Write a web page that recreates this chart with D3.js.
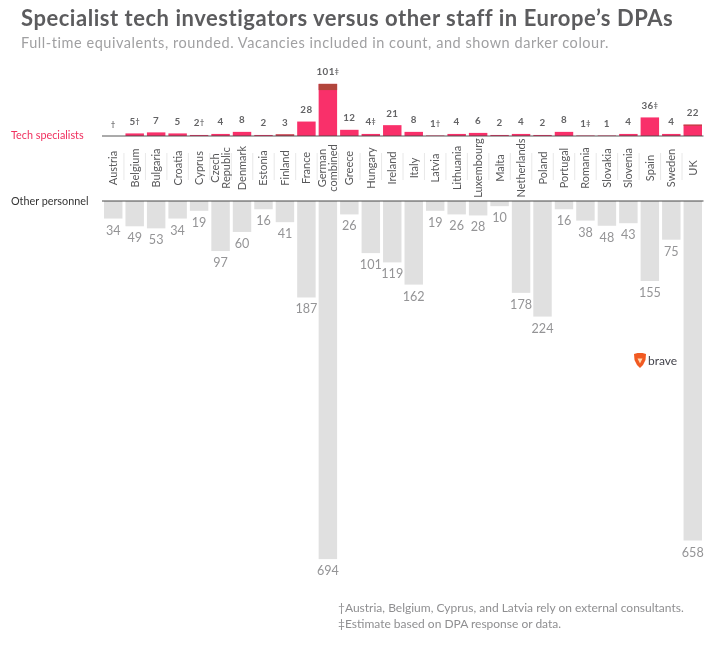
<!DOCTYPE html>
<html><head><meta charset="utf-8">
<script src="https://cdn.jsdelivr.net/npm/d3@7"></script>
<style>html,body{margin:0;background:#fff}svg{display:block;filter:blur(0.35px)}text{font-family:Lato,sans-serif}</style>
</head><body><svg id="c" width="722" height="652"></svg>
<script>
const countries = ["Austria","Belgium","Bulgaria","Croatia","Cyprus","Czech|Republic","Denmark","Estonia","Finland","France","German|combined","Greece","Hungary","Ireland","Italy","Latvia","Lithuania","Luxembourg","Malta","Netherlands","Poland","Portugal","Romania","Slovakia","Slovenia","Spain","Sweden","UK"];
const techTotal = [0,5,7,5,2,4,8,2,3,28,101,12,4,21,8,1,4,6,2,4,2,8,1,1,4,36,4,22];
const techVacant = [0,0,0,0,0,0,0,0,2,0,12,0,0,0,0,0,0,0,0,0,0,0,0,0,0,0,0,2];
const techNotes = ["†","†","","","†","","","","","","‡","","‡","","","†","","","","","","","‡","","","‡","",""];
const other = [34,49,53,34,19,97,60,16,41,187,694,26,101,119,162,19,26,28,10,178,224,16,38,48,43,155,75,658];
const svg = d3.select("#c");
const x = d3.scaleBand().domain(countries).range([102.5,703.5]).paddingInner(0.14).paddingOuter(0.07);
const h = d3.scaleLinear().domain([0,100]).range([0,51.6]);
const topBase = 136, botBase = 201;
const cx = d => x(d)+x.bandwidth()/2;
const idx = d3.range(countries.length);

svg.append("text").attr("x",21).attr("y",26).attr("font-size",22).attr("font-weight",700).attr("letter-spacing",0.53).attr("fill","#5c5c5e").text("Specialist tech investigators versus other staff in Europe’s DPAs");
svg.append("text").attr("x",21).attr("y",48).attr("font-size",14.5).attr("letter-spacing",0.55).attr("fill","#a0a0a2").text("Full-time equivalents, rounded. Vacancies included in count, and shown darker colour.");

// tech bars
svg.append("g").selectAll("rect").data(idx).join("rect")
  .attr("x",i=>x(countries[i])).attr("width",x.bandwidth())
  .attr("y",i=>topBase-h(techTotal[i])).attr("height",i=>h(techTotal[i])).attr("fill","#f9306a");
svg.append("g").selectAll("rect").data(idx).join("rect")
  .attr("x",i=>x(countries[i])).attr("width",x.bandwidth())
  .attr("y",i=>topBase-h(techTotal[i])).attr("height",i=>h(techVacant[i])).attr("fill","#b2453c");
// tech labels
const tl = svg.append("g").selectAll("text").data(idx).join("text")
  .attr("x",i=>cx(countries[i])).attr("y",i=>topBase-h(techTotal[i])-8.5)
  .attr("text-anchor","middle").attr("font-size",9.8).attr("font-weight",700).attr("letter-spacing",0.4).attr("fill","#636365");
tl.append("tspan").text(i=>techTotal[i]>0?techTotal[i]:"");
tl.append("tspan").attr("font-size",7).attr("dy",-1).text(i=>techNotes[i]);

// other bars
svg.append("g").selectAll("rect").data(idx).join("rect")
  .attr("x",i=>x(countries[i])).attr("width",x.bandwidth())
  .attr("y",botBase).attr("height",i=>h(other[i])).attr("fill","#e0e0e0");
svg.append("g").selectAll("text").data(idx).join("text")
  .attr("x",i=>cx(countries[i])).attr("y",i=>botBase+h(other[i])+16)
  .attr("text-anchor","middle").attr("font-size",12.6).attr("fill","#949496").text(i=>other[i]);

// separators
svg.append("g").selectAll("line").data(idx.slice(1)).join("line")
  .attr("x1",i=>x(countries[i])-x.step()*0.07).attr("x2",i=>x(countries[i])-x.step()*0.07)
  .attr("y1",153).attr("y2",180).attr("stroke","#e2e2e2").attr("stroke-width",0.8);

// country names
countries.forEach(c=>{
  const parts = c.split("|");
  const t = svg.append("text").attr("text-anchor","middle").attr("font-size",11).attr("fill","#58585a")
    .attr("transform",`translate(${cx(c)+4},168) rotate(-90)`);
  parts.forEach((p,k)=>t.append("tspan").attr("x",0).attr("dy",k?11:(parts.length>1?-5.5:0)).text(p));
});

// baselines
svg.append("line").attr("x1",102).attr("x2",703.5).attr("y1",topBase).attr("y2",topBase).attr("stroke","#444").attr("stroke-width",0.9);
svg.append("line").attr("x1",102).attr("x2",703.5).attr("y1",botBase).attr("y2",botBase).attr("stroke","#333").attr("stroke-width",0.9);
svg.append("text").attr("x",11).attr("y",139).attr("font-size",10.8).attr("fill","#f0305f").text("Tech specialists");
svg.append("text").attr("x",11).attr("y",205).attr("font-size",10.8).attr("fill","#333").text("Other personnel");

// logo
const logo = svg.append("g").attr("transform","translate(640,361)");
logo.append("path").attr("d","M-6,-7 L-2.5,-8 L2.5,-8 L6,-7 L5.5,-1 L3,4 L0,7 L-3,4 L-5.5,-1 Z").attr("fill","#f15a22");
logo.append("path").attr("d","M-2.5,-2.5 L2.5,-2.5 L0,2.5 Z").attr("fill","#ffd9b0");
svg.append("text").attr("x",648).attr("y",365).attr("font-size",12).attr("fill","#44444c").text("brave");

// notes
svg.append("text").attr("x",338).attr("y",612).attr("font-size",12).attr("fill","#8f8f91").text("†Austria, Belgium, Cyprus, and Latvia rely on external consultants.");
svg.append("text").attr("x",338).attr("y",628).attr("font-size",12).attr("fill","#8f8f91").text("‡Estimate based on DPA response or data.");
</script></body></html>
